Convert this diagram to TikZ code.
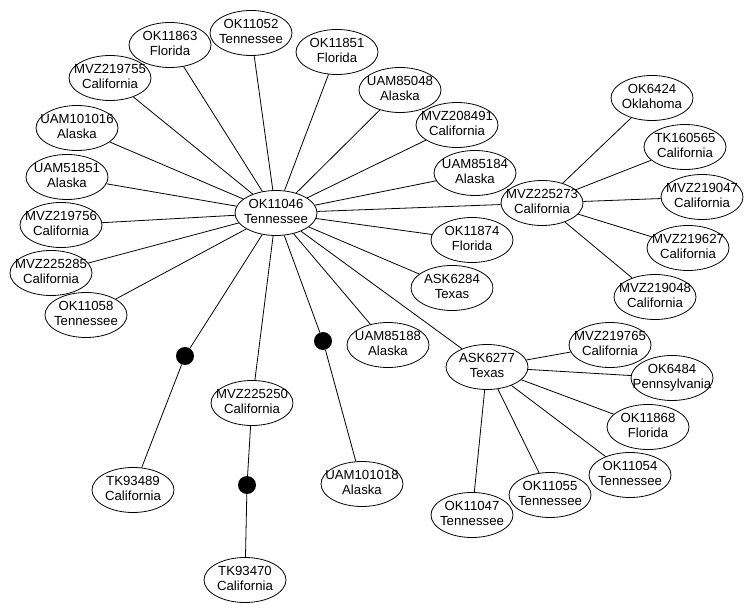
\documentclass[tikz,border=0pt]{standalone}
\usepackage{fontspec}
\setmainfont{Liberation Sans}
\usetikzlibrary{shapes.geometric}
\newcommand\tx[2]{\makebox[0pt][c]{\begin{tabular}{@{}c@{}}#1\\[-0.5pt]#2\end{tabular}}}
\begin{document}
\begin{tikzpicture}[x=1pt,y=-1pt,
  taxon/.style={ellipse,draw,line width=0.8pt,minimum width=82pt,minimum height=45pt,inner sep=0pt,font=\fontsize{13.2}{16}\selectfont},
  mut/.style={circle,fill=black,minimum size=18pt,inner sep=0pt},
  link/.style={line width=0.8pt}]
\useasboundingbox (0,0) rectangle (750,609);
% central
\node[taxon] (c) at (276,213) {\tx{OK11046}{Tennessee}};
\node[taxon] (a1) at (170,45) {\tx{OK11863}{Florida}};
\node[taxon] (a2) at (251,33) {\tx{OK11052}{Tennessee}};
\node[taxon] (a3) at (337,52) {\tx{OK11851}{Florida}};
\node[taxon] (a4) at (110,78) {\tx{MVZ219755}{California}};
\node[taxon] (a5) at (77,128) {\tx{UAM101016}{Alaska}};
\node[taxon] (a6) at (67,177) {\tx{UAM51851}{Alaska}};
\node[taxon] (a7) at (61,225) {\tx{MVZ219756}{California}};
\node[taxon] (a8) at (51,273) {\tx{MVZ225285}{California}};
\node[taxon] (a9) at (86,315) {\tx{OK11058}{Tennessee}};
\node[taxon] (b1) at (400,90) {\tx{UAM85048}{Alaska}};
\node[taxon] (b2) at (457,125) {\tx{MVZ208491}{California}};
\node[taxon] (b3) at (475,173) {\tx{UAM85184}{Alaska}};
\node[taxon] (b4) at (472,240) {\tx{OK11874}{Florida}};
\node[taxon] (b5) at (452,288) {\tx{ASK6284}{Texas}};
\node[taxon] (b6) at (388,345) {\tx{UAM85188}{Alaska}};
\node[taxon] (m) at (542,203) {\tx{MVZ225273}{California}};
\node[taxon] (m1) at (652,98) {\tx{OK6424}{Oklahoma}};
\node[taxon] (m2) at (685,147) {\tx{TK160565}{California}};
\node[taxon] (m3) at (702,197) {\tx{MVZ219047}{California}};
\node[taxon] (m4) at (688,248) {\tx{MVZ219627}{California}};
\node[taxon] (m5) at (655,297) {\tx{MVZ219048}{California}};
\node[taxon] (t) at (487,367) {\tx{ASK6277}{Texas}};
\node[taxon] (t1) at (610,345) {\tx{MVZ219765}{California}};
\node[taxon] (t2) at (672,378) {\tx{OK6484}{Pennsylvania}};
\node[taxon] (t3) at (648,427) {\tx{OK11868}{Florida}};
\node[taxon] (t4) at (630,475) {\tx{OK11054}{Tennessee}};
\node[taxon] (t5) at (550,495) {\tx{OK11055}{Tennessee}};
\node[taxon] (t6) at (472,515) {\tx{OK11047}{Tennessee}};
\node[taxon] (v) at (252,403) {\tx{MVZ225250}{California}};
\node[taxon] (v1) at (245,580) {\tx{TK93470}{California}};
\node[taxon] (p) at (133,490) {\tx{TK93489}{California}};
\node[taxon] (q) at (362,484) {\tx{UAM101018}{Alaska}};
\node[mut] (d1) at (185,356) {};
\node[mut] (d2) at (323,341) {};
\node[mut] (d3) at (247,485) {};
% edges
\foreach \n in {a1,a2,a3,a4,a5,a6,a7,a8,a9,b1,b2,b3,b4,b5,b6,m,t,v,d1,d2}
  \draw[link] (c) -- (\n);
\foreach \n in {m1,m2,m3,m4,m5}
  \draw[link] (m) -- (\n);
\foreach \n in {t1,t2,t3,t4,t5,t6}
  \draw[link] (t) -- (\n);
\draw[link] (d1) -- (p);
\draw[link] (d2) -- (q);
\draw[link] (v) -- (d3) -- (v1);
\end{tikzpicture}
\end{document}
